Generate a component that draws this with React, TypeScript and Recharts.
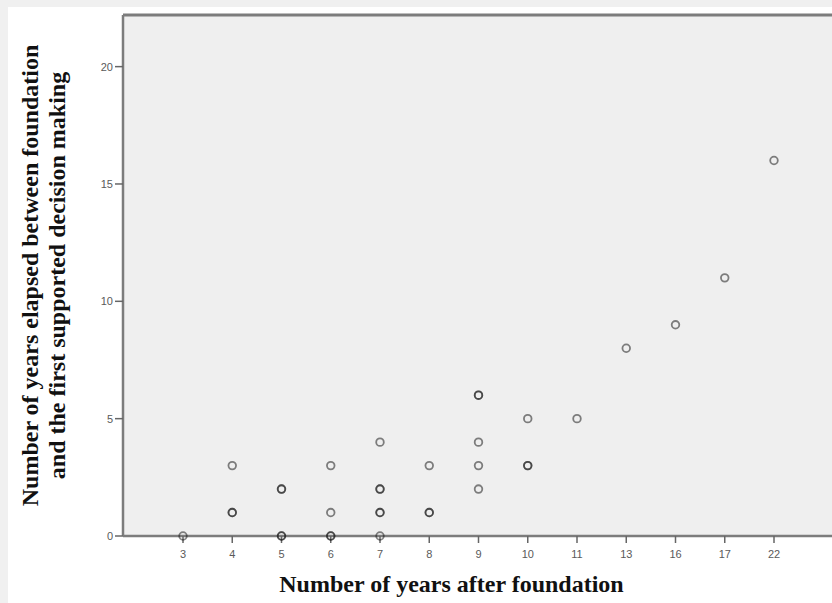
import React from "react";
import {
  ScatterChart,
  Scatter,
  XAxis,
  YAxis,
  CartesianGrid,
  ReferenceLine,
} from "recharts";

// x categories as printed on the axis (not evenly numeric)
const yearCategories = ["3", "4", "5", "6", "7", "8", "9", "10", "11", "13", "16", "17", "22"];

// one entry per case; repeated pairs are overplotted and look darker
const yearsAfterFoundation = [
  3, 4, 4, 4, 5, 5, 5, 5, 6, 6, 6, 6, 7, 7, 7, 7, 7, 7,
  8, 8, 8, 9, 9, 9, 9, 9, 10, 10, 10, 11, 13, 16, 17, 22,
];
const yearsElapsed = [
  0, 3, 1, 1, 2, 2, 0, 0, 3, 1, 0, 0, 4, 2, 2, 1, 1, 0,
  3, 1, 1, 6, 6, 4, 3, 2, 5, 3, 3, 5, 8, 9, 11, 16,
];

const yTicks = [0, 5, 10, 15, 20];
const yMax = 22.2;

const xTitle = "Number of years after foundation";
const yTitleLines = [
  "Number of years elapsed between foundation",
  "and the first supported decision making",
];

const points = yearsAfterFoundation.map((x, i) => ({ x: String(x), y: yearsElapsed[i] }));

const AXIS = "#7c7c7c";
const TICK_TEXT = { fill: "#5a5a5a", fontSize: 11, fontFamily: "Liberation Sans, Arial, sans-serif" };
const TITLE_FONT = "Liberation Serif, Times New Roman, serif";

const Ring = (props: any) => {
  if (props.cx == null || props.cy == null) return null;
  return (
    <circle
      cx={props.cx}
      cy={props.cy}
      r={3.8}
      fill="none"
      stroke="#1e1e1e"
      strokeOpacity={0.55}
      strokeWidth={1.8}
    />
  );
};

const XTitle = (props: any) => {
  const vb = props.viewBox || { x: 123, width: 711 };
  return (
    <text
      x={vb.x + vb.width / 2 - 27}
      y={592}
      textAnchor="middle"
      fontFamily={TITLE_FONT}
      fontWeight="bold"
      fontSize={24}
      fill="#111"
    >
      {xTitle}
    </text>
  );
};

const YTitle = (props: any) => {
  const vb = props.viewBox || { y: 15, height: 521 };
  const cy = vb.y + vb.height / 2;
  const baselines = [38, 65];
  return (
    <g>
      {yTitleLines.map((line, i) => (
        <text
          key={line}
          x={baselines[i]}
          y={cy}
          transform={`rotate(-90, ${baselines[i]}, ${cy})`}
          textAnchor="middle"
          fontFamily={TITLE_FONT}
          fontWeight="bold"
          fontSize={24}
          fill="#111"
        >
          {line}
        </text>
      ))}
    </g>
  );
};

export default function App() {
  return (
    <div
      style={{
        position: "absolute",
        left: 0,
        top: 0,
        width: 832,
        height: 603,
        overflow: "hidden",
        background: "#f0f0f0",
      }}
    >
      <div style={{ position: "absolute", left: 8, top: 7, width: 824, height: 596, background: "#fff" }} />
      <div style={{ position: "absolute", left: 0, top: 0 }}>
        <ScatterChart width={840} height={603} margin={{ top: 15, right: 6, bottom: 0, left: 0 }}>
          <CartesianGrid fill="#efefef" horizontal={false} vertical={false} />
          <XAxis
            dataKey="x"
            type="category"
            allowDuplicatedCategory={false}
            scale="point"
            ticks={yearCategories}
            interval={0}
            padding={{ left: 60, right: 60 }}
            height={67}
            tickSize={7}
            tickMargin={7}
            axisLine={{ stroke: AXIS, strokeWidth: 2.5 }}
            tickLine={{ stroke: "#666", strokeWidth: 1.5 }}
            tick={TICK_TEXT}
            label={{ content: XTitle }}
          />
          <YAxis
            dataKey="y"
            type="number"
            domain={[0, yMax]}
            ticks={yTicks}
            width={123}
            tickSize={8}
            tickMargin={2}
            axisLine={{ stroke: AXIS, strokeWidth: 2.5 }}
            tickLine={{ stroke: "#666", strokeWidth: 1.5 }}
            tick={TICK_TEXT}
            label={{ content: YTitle }}
          />
          <ReferenceLine y={yMax} stroke={AXIS} strokeWidth={3} />
          <Scatter data={points} shape={Ring} isAnimationActive={false} />
        </ScatterChart>
      </div>
    </div>
  );
}
